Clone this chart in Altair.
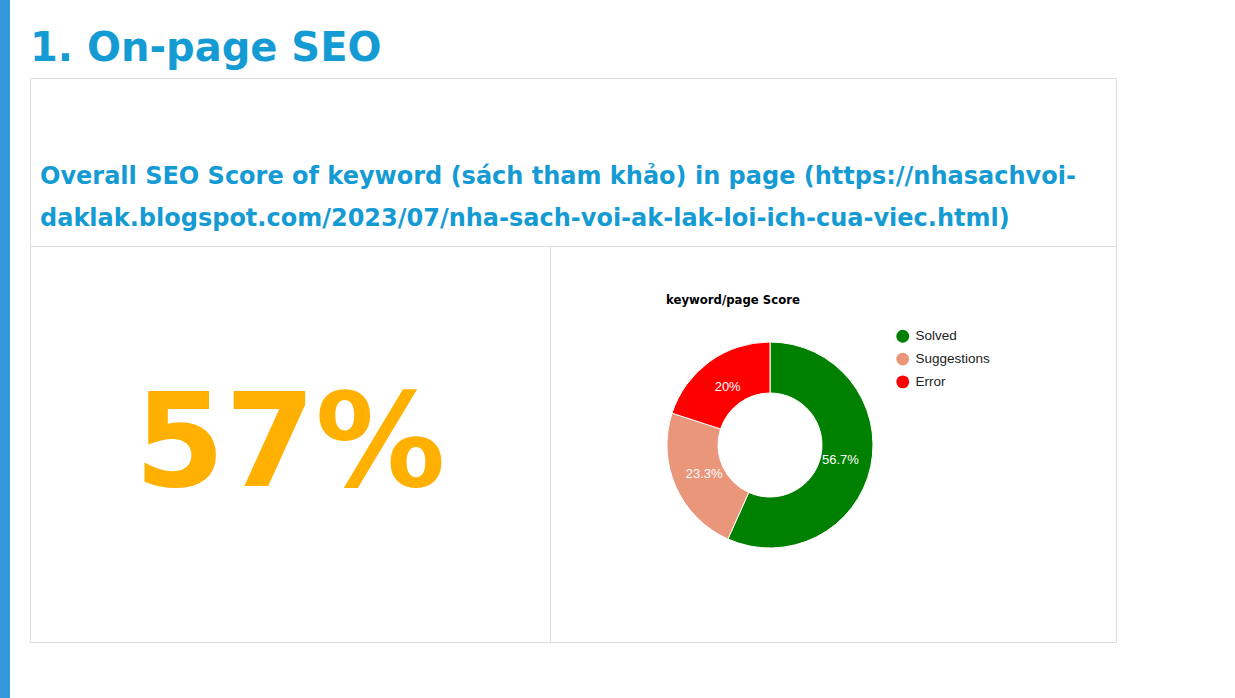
import altair as alt
import pandas as pd

# ---- data ----
categories = ["Solved", "Suggestions", "Error"]
values = [56.7, 23.3, 20.0]
labels = ["56.7%", "23.3%", "20%"]
colors = ["#008000", "#E9967A", "#FF0000"]

page_title = "1. On-page SEO"
subtitle_lines = [
    "Overall SEO Score of keyword (sách tham khảo) in page (https://nhasachvoi-",
    "daklak.blogspot.com/2023/07/nha-sach-voi-ak-lak-loi-ich-cua-viec.html)",
]
big_score = "57%"
chart_title = "keyword/page Score"

W, H = 1235, 698
FONT = "Liberation Sans"
BOLD = "DejaVu Sans"
BLUE = "#159BD4"

donut = pd.DataFrame({"cat": categories, "value": values, "label": labels,
                      "order": list(range(len(categories)))})
one = pd.DataFrame({"k": [0]})

def rect(x, x2, y, y2, fill=None, stroke=None, sw=1):
    kw = {}
    if fill:
        kw["fill"] = fill
    else:
        kw["fillOpacity"] = 0
    if stroke:
        kw["stroke"] = stroke
        kw["strokeWidth"] = sw
    return alt.Chart(one).mark_rect(**kw).encode(
        x=alt.value(x), x2=alt.value(x2), y=alt.value(y), y2=alt.value(y2))

def rule(x, x2, y, y2, color="#dddddd"):
    return alt.Chart(one).mark_rule(color=color, strokeWidth=1).encode(
        x=alt.value(x), x2=alt.value(x2), y=alt.value(y), y2=alt.value(y2))

def text(t, x, y, size, color, font=BOLD, bold=True, align="left"):
    return alt.Chart(one).mark_text(
        text=t, font=font, fontSize=size, fontWeight="bold" if bold else "normal",
        color=color, align=align, baseline="alphabetic").encode(
        x=alt.value(x), y=alt.value(y))

layers = []
# left blue strip
layers.append(rect(0, 10, 0, H, fill="#3498DB"))
# outer box and dividers
layers.append(rect(30.5, 1116.5, 78.5, 642.5, stroke="#dddddd"))
layers.append(rule(30.5, 1116.5, 246.5, 246.5))
layers.append(rule(550.5, 550.5, 246.5, 642.5))

layers.append(text(page_title, 30, 61, 40, BLUE))
layers.append(text(subtitle_lines[0], 40, 184, 24, BLUE))
layers.append(text(subtitle_lines[1], 40, 226, 24, BLUE))
layers.append(text(big_score, 290, 486, 130, "#FFB000", align="center"))
layers.append(text(chart_title, 666, 304, 11.7, "#000000"))

cx, cy = 770, 445
arc = alt.Chart(donut).mark_arc(radius=103, radius2=52, stroke="white", strokeWidth=1).encode(
    theta=alt.Theta("value:Q", stack=True),
    order=alt.Order("order:Q"),
    color=alt.Color("cat:N", scale=alt.Scale(domain=categories, range=colors),
                    legend=alt.Legend(orient="none", legendX=896, legendY=329.5, title=None,
                                      symbolType="circle", symbolSize=165, symbolStrokeWidth=0,
                                      labelFont=FONT, labelFontSize=13.5, labelColor="#222222",
                                      rowPadding=7.8, labelOffset=6)),
    x=alt.value(cx), y=alt.value(cy),
)
arc_labels = alt.Chart(donut).mark_text(radius=72, font=FONT, fontSize=13, color="white").encode(
    theta=alt.Theta("value:Q", stack=True),
    order=alt.Order("order:Q"),
    text="label:N",
    x=alt.value(cx), y=alt.value(cy),
)
layers += [arc, arc_labels]

chart = alt.layer(*layers).properties(
    width=W, height=H, autosize=alt.AutoSizeParams(type="none"), padding=0,
    background="white",
).configure_view(stroke=None)

chart.save("out.html", embed_options={"renderer": "svg", "actions": False})
